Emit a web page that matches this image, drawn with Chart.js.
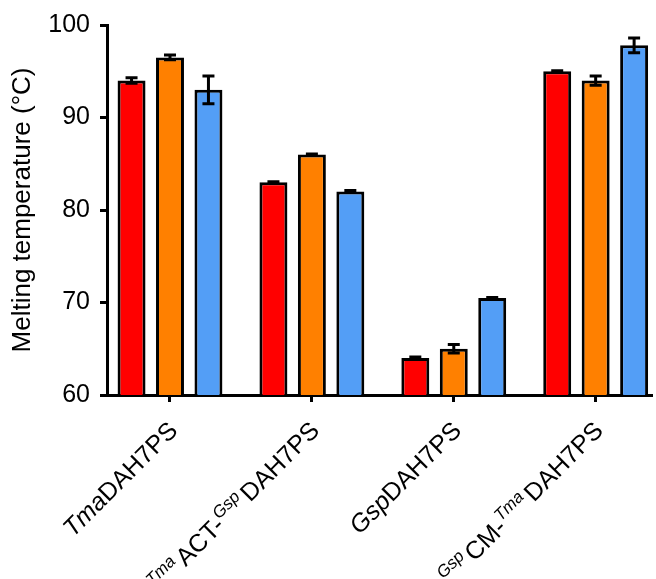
<!DOCTYPE html>
<html>
<head>
<meta charset="utf-8">
<script src="https://cdn.jsdelivr.net/npm/chart.js@4"></script>
<style>
  html, body { margin: 0; padding: 0; background: #fff; }
  #wrap { width: 656px; height: 579px; }
</style>
</head>
<body>
<div id="wrap"><canvas id="chart" width="656" height="579"></canvas></div>
<script>
// constructs on the x axis
const categories = ["TmaDAH7PS", "TmaACT-GspDAH7PS", "GspDAH7PS", "GspCM-TmaDAH7PS"];

// melting temperatures (°C), three conditions per construct
const seriesRed = [94.0, 83.0, 64.0, 95.0];
const seriesOrange = [96.5, 86.0, 65.0, 94.0];
const seriesBlue = [93.0, 82.0, 70.5, 97.8];

// error (±) for each bar
const errRed = [0.3, 0.05, 0.1, 0.05];
const errOrange = [0.25, 0.05, 0.45, 0.5];
const errBlue = [1.5, 0.1, 0.05, 0.8];

const yTicks = [60, 70, 80, 90, 100];

// rich label pieces: i = italic, s = superscript
const labelParts = [
  [{ t: "Tma", i: true }, { t: "DAH7PS" }],
  [{ t: "Tma", i: true, s: true }, { t: "ACT-" }, { t: "Gsp", i: true, s: true }, { t: "DAH7PS" }],
  [{ t: "Gsp", i: true }, { t: "DAH7PS" }],
  [{ t: "Gsp", i: true, s: true }, { t: "CM-" }, { t: "Tma", i: true, s: true }, { t: "DAH7PS" }]
];

const FONT = '"Liberation Sans", Arial, sans-serif';
Chart.defaults.font.family = FONT;

const toPoints = (vals) => vals.map((v, i) => ({ x: i, y: v }));

const errorBars = {
  id: "errorBars",
  afterDatasetsDraw(chart) {
    const ctx = chart.ctx;
    const y = chart.scales.y;
    const errs = [errRed, errOrange, errBlue];
    ctx.save();
    ctx.strokeStyle = "#000";
    ctx.lineWidth = 3;
    chart.data.datasets.forEach((ds, di) => {
      chart.getDatasetMeta(di).data.forEach((bar, j) => {
        const v = ds.data[j].y;
        const e = errs[di][j];
        const top = y.getPixelForValue(v + e);
        const bot = y.getPixelForValue(v - e);
        ctx.beginPath();
        ctx.moveTo(bar.x, top); ctx.lineTo(bar.x, bot);
        ctx.moveTo(bar.x - 6, top); ctx.lineTo(bar.x + 6, top);
        ctx.moveTo(bar.x - 6, bot); ctx.lineTo(bar.x + 6, bot);
        ctx.stroke();
      });
    });
    ctx.restore();
  }
};

// rotated, partly italic / superscript category labels
const richLabels = {
  id: "richLabels",
  afterDraw(chart) {
    const ctx = chart.ctx;
    const x = chart.scales.x;
    const base = x.top;
    ctx.save();
    ctx.fillStyle = "#000";
    ctx.textBaseline = "alphabetic";
    labelParts.forEach((parts, i) => {
      const px = x.getPixelForValue(i);
      const fontFor = (p) => (p.i ? "italic " : "normal ") + (p.s ? 17 : 25) + "px " + FONT;
      let total = 0;
      const widths = parts.map((p) => {
        ctx.font = fontFor(p);
        const w = ctx.measureText(p.t).width + (p.s ? 3 : 0);
        total += w;
        return w;
      });
      ctx.save();
      ctx.translate(px + 9, base + 37);
      ctx.rotate(-Math.PI / 4);
      let cx = -total;
      parts.forEach((p, k) => {
        ctx.font = fontFor(p);
        ctx.fillText(p.t, cx, p.s ? -10 : 0);
        cx += widths[k];
      });
      ctx.restore();
    });
    ctx.restore();
  }
};

const barStyle = {
  borderColor: "#000",
  borderWidth: 3,
  categoryPercentage: 0.813,
  barPercentage: 0.727
};

const chart = new Chart(document.getElementById("chart"), {
  type: "bar",
  data: {
    datasets: [
      { data: toPoints(seriesRed), backgroundColor: "#ff0000", ...barStyle },
      { data: toPoints(seriesOrange), backgroundColor: "#ff8000", ...barStyle },
      { data: toPoints(seriesBlue), backgroundColor: "#539ef6", ...barStyle }
    ]
  },
  options: {
    responsive: false,
    animation: false,
    layout: { padding: { top: 24, right: 5 } },
    plugins: { legend: { display: false }, tooltip: { enabled: false } },
    scales: {
      x: {
        type: "linear",
        min: -0.444,
        max: 3.39,
        offset: false,
        afterBuildTicks: (s) => { s.ticks = categories.map((c, i) => ({ value: i })); },
        afterFit: (s) => { s.height = 184; },
        ticks: { display: false },
        grid: { offset: false, drawOnChartArea: false, tickLength: 7, color: "#000", lineWidth: 3 },
        border: { display: true, color: "#000", width: 3 }
      },
      y: {
        min: 60,
        max: 100,
        afterBuildTicks: (s) => { s.ticks = yTicks.map((v) => ({ value: v })); },
        afterFit: (s) => { s.width = 107; },
        ticks: { color: "#000", font: { size: 25 }, padding: 10 },
        grid: { drawOnChartArea: false, tickLength: 7, color: "#000", lineWidth: 3 },
        border: { display: true, color: "#000", width: 3 },
        title: { display: true, text: "Melting temperature (°C)", color: "#000", font: { size: 26 }, padding: 7 }
      }
    }
  },
  plugins: [errorBars, richLabels]
});

// italic face may load late: redraw once it is there
if (document.fonts && document.fonts.load) {
  document.fonts.load('italic 25px "Liberation Sans"').then(() => chart.update()).catch(() => {});
}
setTimeout(() => chart.update(), 200);
</script>
</body>
</html>
